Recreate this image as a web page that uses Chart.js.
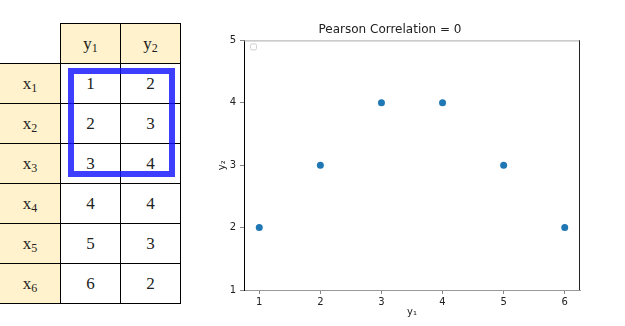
<!DOCTYPE html>
<html>
<head>
<meta charset="utf-8">
<script src="https://cdn.jsdelivr.net/npm/chart.js@4/dist/chart.umd.min.js"></script>
<style>
  html, body { margin: 0; padding: 0; background: #fff; }
  body { width: 625px; height: 326px; position: relative; overflow: hidden; }
  .cell { position: absolute; box-sizing: border-box; display: flex; align-items: center; justify-content: center;
          font-family: "Liberation Serif", "DejaVu Serif", serif; font-size: 17px; color: #222; }
  .hdr { background: #fff2cc; }
  .cell .sb { display: inline-block; font-size: 12px; position: relative; top: 5px; }
  #box { position: absolute; box-sizing: border-box; border: 6px solid rgba(20,20,255,0.82); }
  #wrap { position: absolute; left: 200px; top: 0; width: 425px; height: 326px; }
</style>
</head>
<body>
<div id="table"></div>
<div id="box"></div>
<div id="wrap"><canvas id="c"></canvas></div>
<script>
// ---- data ----
const rowLabels = ["x1", "x2", "x3", "x4", "x5", "x6"];
const colLabels = ["y1", "y2"];
const y1Values = [1, 2, 3, 4, 5, 6];
const y2Values = [2, 3, 4, 4, 3, 2];
const xTicks = [1, 2, 3, 4, 5, 6];
const yTicks = [1, 2, 3, 4, 5];
const titleText = "Pearson Correlation = 0";
const xTitle = "y\u2081";
const yTitle = "y\u2082";

// ---- table ----
const table = document.getElementById('table');
const colX = [0, 60, 120, 180];
const top0 = 23, rowH = 40;
function sub(label) { return '<span>' + label[0] + '</span><span class="sb">' + label.slice(1) + '</span>'; }
function addCell(x, y, w, h, html, cls, borders) {
  const d = document.createElement('div');
  d.className = 'cell ' + (cls || '');
  d.style.left = x + 'px'; d.style.top = y + 'px';
  d.style.width = w + 'px'; d.style.height = h + 'px';
  d.style.borderTop = borders.t ? '1px solid #000' : 'none';
  d.style.borderLeft = borders.l ? '1px solid #000' : 'none';
  d.style.borderRight = borders.r ? '1px solid #000' : 'none';
  d.style.borderBottom = borders.b ? '1px solid #000' : 'none';
  d.innerHTML = html;
  table.appendChild(d);
}
colLabels.forEach((c, j) => {
  addCell(colX[j + 1], top0, 61, rowH + 1, sub(c), 'hdr', {t:1, l:1, r:1, b:1});
});
rowLabels.forEach((r, i) => {
  const y = top0 + rowH * (i + 1);
  addCell(colX[0], y, 61, rowH + 1, sub(r), 'hdr', {t:1, l:0, r:1, b:1});
  addCell(colX[1], y, 61, rowH + 1, String(y1Values[i]), '', {t:1, l:1, r:1, b:1});
  addCell(colX[2], y, 61, rowH + 1, String(y2Values[i]), '', {t:1, l:1, r:1, b:1});
});
const box = document.getElementById('box');
box.style.left = '68px'; box.style.top = '68px';
box.style.width = '107px'; box.style.height = '109px';

// ---- chart ----
const framePlugin = {
  id: 'frame',
  afterDatasetsDraw(chart) {
    const {ctx, chartArea: a} = chart;
    ctx.save();
    ctx.lineWidth = 1;
    ctx.strokeStyle = '#aaaaaa';
    ctx.beginPath();
    ctx.moveTo(a.left, a.top + 0.5); ctx.lineTo(a.right, a.top + 0.5);
    ctx.stroke();
    ctx.strokeStyle = '#222222';
    ctx.beginPath();
    ctx.moveTo(a.right - 0.5, a.top); ctx.lineTo(a.right - 0.5, a.bottom);
    ctx.stroke();
    ctx.strokeStyle = '#d0d0d0';
    ctx.beginPath();
    if (ctx.roundRect) ctx.roundRect(a.left + 6.5, a.top + 3.5, 6, 6, 1.5); else ctx.rect(a.left + 6.5, a.top + 3.5, 6, 6);
    ctx.stroke();
    ctx.restore();
  }
};

new Chart(document.getElementById('c'), {
  type: 'scatter',
  data: {
    datasets: [{
      data: y1Values.map((v, i) => ({x: v, y: y2Values[i]})),
      backgroundColor: '#1f77b4',
      borderColor: '#1f77b4',
      borderWidth: 0,
      pointRadius: 3.5,
      pointHoverRadius: 3.5
    }]
  },
  options: {
    responsive: true,
    maintainAspectRatio: false,
    animation: false,
    layout: { padding: { left: 0, right: 45, top: 0, bottom: 0 } },
    plugins: {
      legend: { display: false },
      tooltip: { enabled: false },
      title: {
        display: true, text: titleText, color: '#222',
        font: { family: 'DejaVu Sans', size: 12, weight: 'normal' },
        padding: { top: 23, bottom: 3 }
      }
    },
    scales: {
      x: {
        type: 'linear', min: 0.75, max: 6.25,
        afterBuildTicks: s => { s.ticks = xTicks.map(v => ({value: v})); },
        afterFit: s => { s.height = 36; },
        grid: { drawOnChartArea: false, drawTicks: true, tickLength: 4, color: '#888' },
        border: { color: '#999', width: 1 },
        ticks: { color: '#222', padding: 2, font: { family: 'DejaVu Sans', size: 10 }, maxRotation: 0 },
        title: { display: true, text: xTitle, color: '#222', font: { family: 'DejaVu Sans', size: 10 }, padding: { top: 0, bottom: 8 } }
      },
      y: {
        type: 'linear', min: 1, max: 5,
        afterBuildTicks: s => { s.ticks = yTicks.map(v => ({value: v})); },
        afterFit: s => { s.width = 44; },
        grid: { drawOnChartArea: false, drawTicks: true, tickLength: 4, color: '#888' },
        border: { color: '#000', width: 1 },
        ticks: { color: '#222', padding: 4, font: { family: 'DejaVu Sans', size: 10 } },
        title: { display: true, text: yTitle, color: '#222', font: { family: 'DejaVu Sans', size: 10 }, padding: { top: 16, bottom: 0 } }
      }
    }
  },
  plugins: [framePlugin]
});
</script>
</body>
</html>
